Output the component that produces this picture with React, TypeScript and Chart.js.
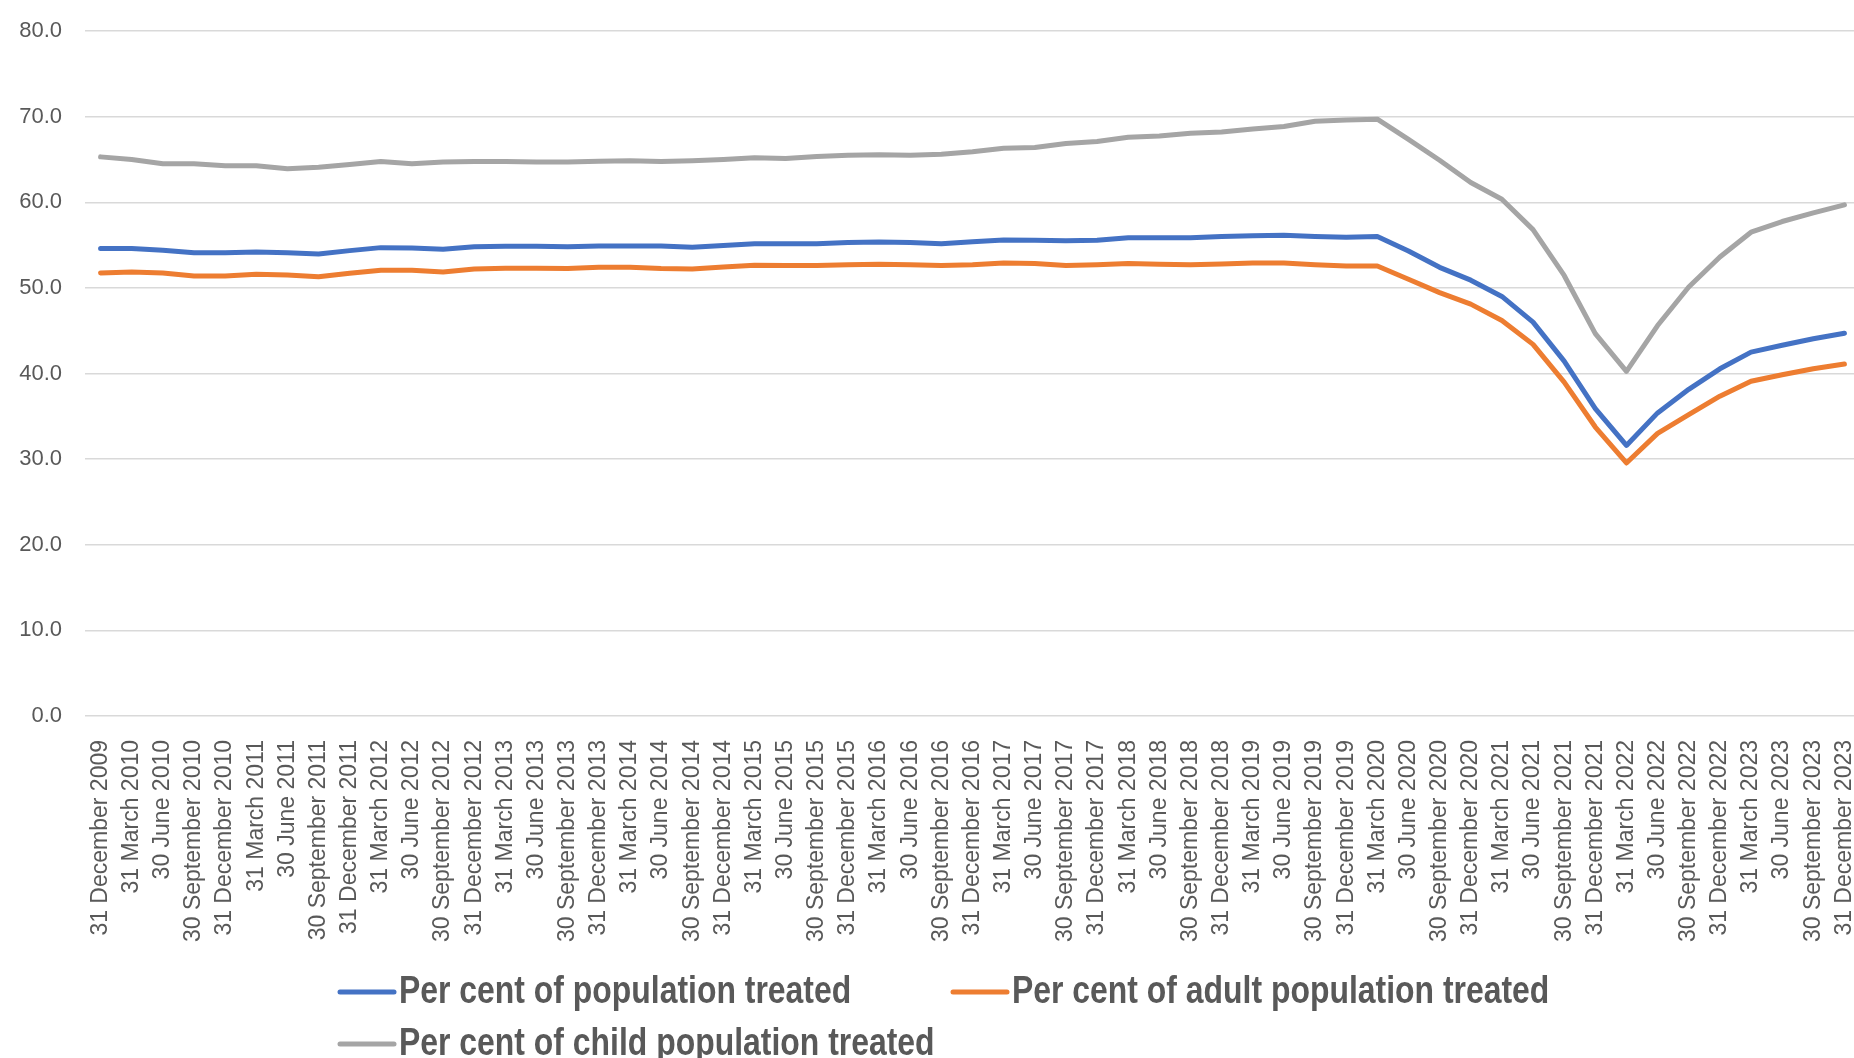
import React, { useEffect, useRef } from "react";
import { Chart, registerables } from "chart.js";

Chart.register(...registerables);

const quarterLabels: string[] = [
  "31 December 2009",
  "31 March 2010", "30 June 2010", "30 September 2010", "31 December 2010",
  "31 March 2011", "30 June 2011", "30 September 2011", "31 December 2011",
  "31 March 2012", "30 June 2012", "30 September 2012", "31 December 2012",
  "31 March 2013", "30 June 2013", "30 September 2013", "31 December 2013",
  "31 March 2014", "30 June 2014", "30 September 2014", "31 December 2014",
  "31 March 2015", "30 June 2015", "30 September 2015", "31 December 2015",
  "31 March 2016", "30 June 2016", "30 September 2016", "31 December 2016",
  "31 March 2017", "30 June 2017", "30 September 2017", "31 December 2017",
  "31 March 2018", "30 June 2018", "30 September 2018", "31 December 2018",
  "31 March 2019", "30 June 2019", "30 September 2019", "31 December 2019",
  "31 March 2020", "30 June 2020", "30 September 2020", "31 December 2020",
  "31 March 2021", "30 June 2021", "30 September 2021", "31 December 2021",
  "31 March 2022", "30 June 2022", "30 September 2022", "31 December 2022",
  "31 March 2023", "30 June 2023", "30 September 2023", "31 December 2023",
];

const populationTreated: number[] = [
  54.6, 54.6, 54.4, 54.1, 54.1, 54.2, 54.1, 53.95, 54.35, 54.7, 54.65, 54.5, 54.8, 54.85, 54.85, 54.8,
  54.9, 54.9, 54.9, 54.75, 54.95, 55.15, 55.15, 55.15, 55.3, 55.35, 55.3, 55.15, 55.4, 55.6, 55.55, 55.5,
  55.55, 55.85, 55.85, 55.85, 56.0, 56.1, 56.15, 56.0, 55.9, 56.0,
  54.3, 52.4, 50.9, 49.0, 46.0, 41.45, 35.9, 31.6, 35.4, 38.15, 40.55, 42.5, 43.3, 44.05, 44.7,
];

const adultTreated: number[] = [
  51.75, 51.85, 51.75, 51.4, 51.4, 51.6, 51.5, 51.3, 51.7, 52.05, 52.05, 51.85, 52.2, 52.3, 52.3, 52.25,
  52.4, 52.4, 52.25, 52.2, 52.45, 52.65, 52.6, 52.6, 52.7, 52.75, 52.7, 52.6, 52.7, 52.9, 52.85, 52.6,
  52.7, 52.85, 52.75, 52.7, 52.8, 52.9, 52.9, 52.7, 52.55, 52.55,
  51.0, 49.45, 48.1, 46.2, 43.4, 39.0, 33.75, 29.55, 33.0, 35.2, 37.35, 39.1, 39.85, 40.55, 41.1,
];

const childTreated: number[] = [
  65.3, 65.0, 64.5, 64.5, 64.25, 64.25, 63.9, 64.1, 64.4, 64.75, 64.5, 64.7, 64.75, 64.75, 64.7, 64.7,
  64.8, 64.85, 64.75, 64.85, 65.0, 65.2, 65.1, 65.35, 65.5, 65.55, 65.5, 65.6, 65.9, 66.3, 66.4, 66.85,
  67.1, 67.6, 67.75, 68.05, 68.2, 68.55, 68.85, 69.45, 69.6, 69.7,
  67.35, 64.9, 62.3, 60.35, 56.8, 51.45, 44.65, 40.25, 45.6, 50.1, 53.6, 56.5, 57.75, 58.75, 59.7,
];

const seriesNames: string[] = [
  "Per cent of population treated",
  "Per cent of adult population treated",
  "Per cent of child population treated",
];

const seriesColors: string[] = ["#4472C4", "#ED7D31", "#A5A5A5"];

const yMin = 0;
const yMax = 80;
const yStep = 10;

// canvas is slightly wider than the 1854px window so the plot area runs past the right edge, as in the original
const W = 1860;
const H = 1058;

const legendPlugin = {
  id: "excelLegend",
  afterDraw(chart: any) {
    const ctx = chart.ctx as CanvasRenderingContext2D;
    const startX = 340;
    const colWidth = 613;
    const rowYs = [992, 1044];
    const lineLen = 54;
    const gap = 5;
    const squeeze = 0.84;
    ctx.save();
    ctx.font = 'bold 38px "Liberation Sans", Arial, sans-serif';
    ctx.textBaseline = "middle";
    ctx.textAlign = "left";
    chart.data.datasets.forEach((ds: any, i: number) => {
      const row = Math.floor(i / 2);
      const col = i % 2;
      const x = startX + col * colWidth;
      const y = rowYs[row];
      ctx.strokeStyle = ds.borderColor;
      ctx.lineWidth = 5;
      ctx.lineCap = "round";
      ctx.beginPath();
      ctx.moveTo(x, y);
      ctx.lineTo(x + lineLen, y);
      ctx.stroke();
      ctx.fillStyle = "#595959";
      ctx.save();
      ctx.translate(x + lineLen + gap, y + 1);
      ctx.scale(squeeze, 1);
      ctx.fillText(ds.label, 0, 0);
      ctx.restore();
    });
    ctx.restore();
  },
};

export default function App() {
  const canvasRef = useRef<HTMLCanvasElement | null>(null);

  useEffect(() => {
    const canvas = canvasRef.current;
    if (!canvas) return;
    const seriesData = [populationTreated, adultTreated, childTreated];
    const chart = new Chart(canvas, {
      type: "line",
      data: {
        labels: quarterLabels,
        datasets: seriesNames.map((name, i) => ({
          label: name,
          data: seriesData[i],
          borderColor: seriesColors[i],
          backgroundColor: seriesColors[i],
          borderWidth: 5,
          pointRadius: 0,
          pointHoverRadius: 0,
          tension: 0,
          borderCapStyle: "round" as const,
          borderJoinStyle: "round" as const,
          fill: false,
        })),
      },
      options: {
        animation: false,
        responsive: false,
        devicePixelRatio: 1,
        layout: { padding: { top: 31, left: 0, right: 0, bottom: 0 } },
        plugins: {
          legend: { display: false },
          tooltip: { enabled: false },
        },
        scales: {
          x: {
            type: "category",
            offset: true,
            grid: { display: false, drawTicks: false },
            border: { display: false },
            afterFit: (scale: any) => {
              scale.height = 342;
              scale.paddingLeft = 0;
              scale.paddingRight = 0;
            },
            ticks: {
              autoSkip: false,
              minRotation: 90,
              maxRotation: 90,
              padding: 24,
              color: "#595959",
              font: { family: '"Liberation Sans", Arial, sans-serif', size: 23 },
            },
          },
          y: {
            min: yMin,
            max: yMax,
            grid: { color: "#d9d9d9", lineWidth: 1.5, drawTicks: false },
            border: { display: false },
            afterFit: (scale: any) => {
              scale.width = 85;
              scale.paddingTop = 0;
              scale.paddingBottom = 0;
            },
            ticks: {
              stepSize: yStep,
              padding: 23,
              color: "#595959",
              font: { family: '"Liberation Sans", Arial, sans-serif', size: 22 },
              callback: (v: any) => Number(v).toFixed(1),
            },
          },
        },
      },
      plugins: [legendPlugin],
    });
    return () => chart.destroy();
  }, []);

  return (
    <div style={{ position: "fixed", left: 0, top: 0, width: W, height: H, background: "#ffffff", overflow: "hidden" }}>
      <canvas ref={canvasRef} width={W} height={H} style={{ display: "block", width: W, height: H }} />
    </div>
  );
}
